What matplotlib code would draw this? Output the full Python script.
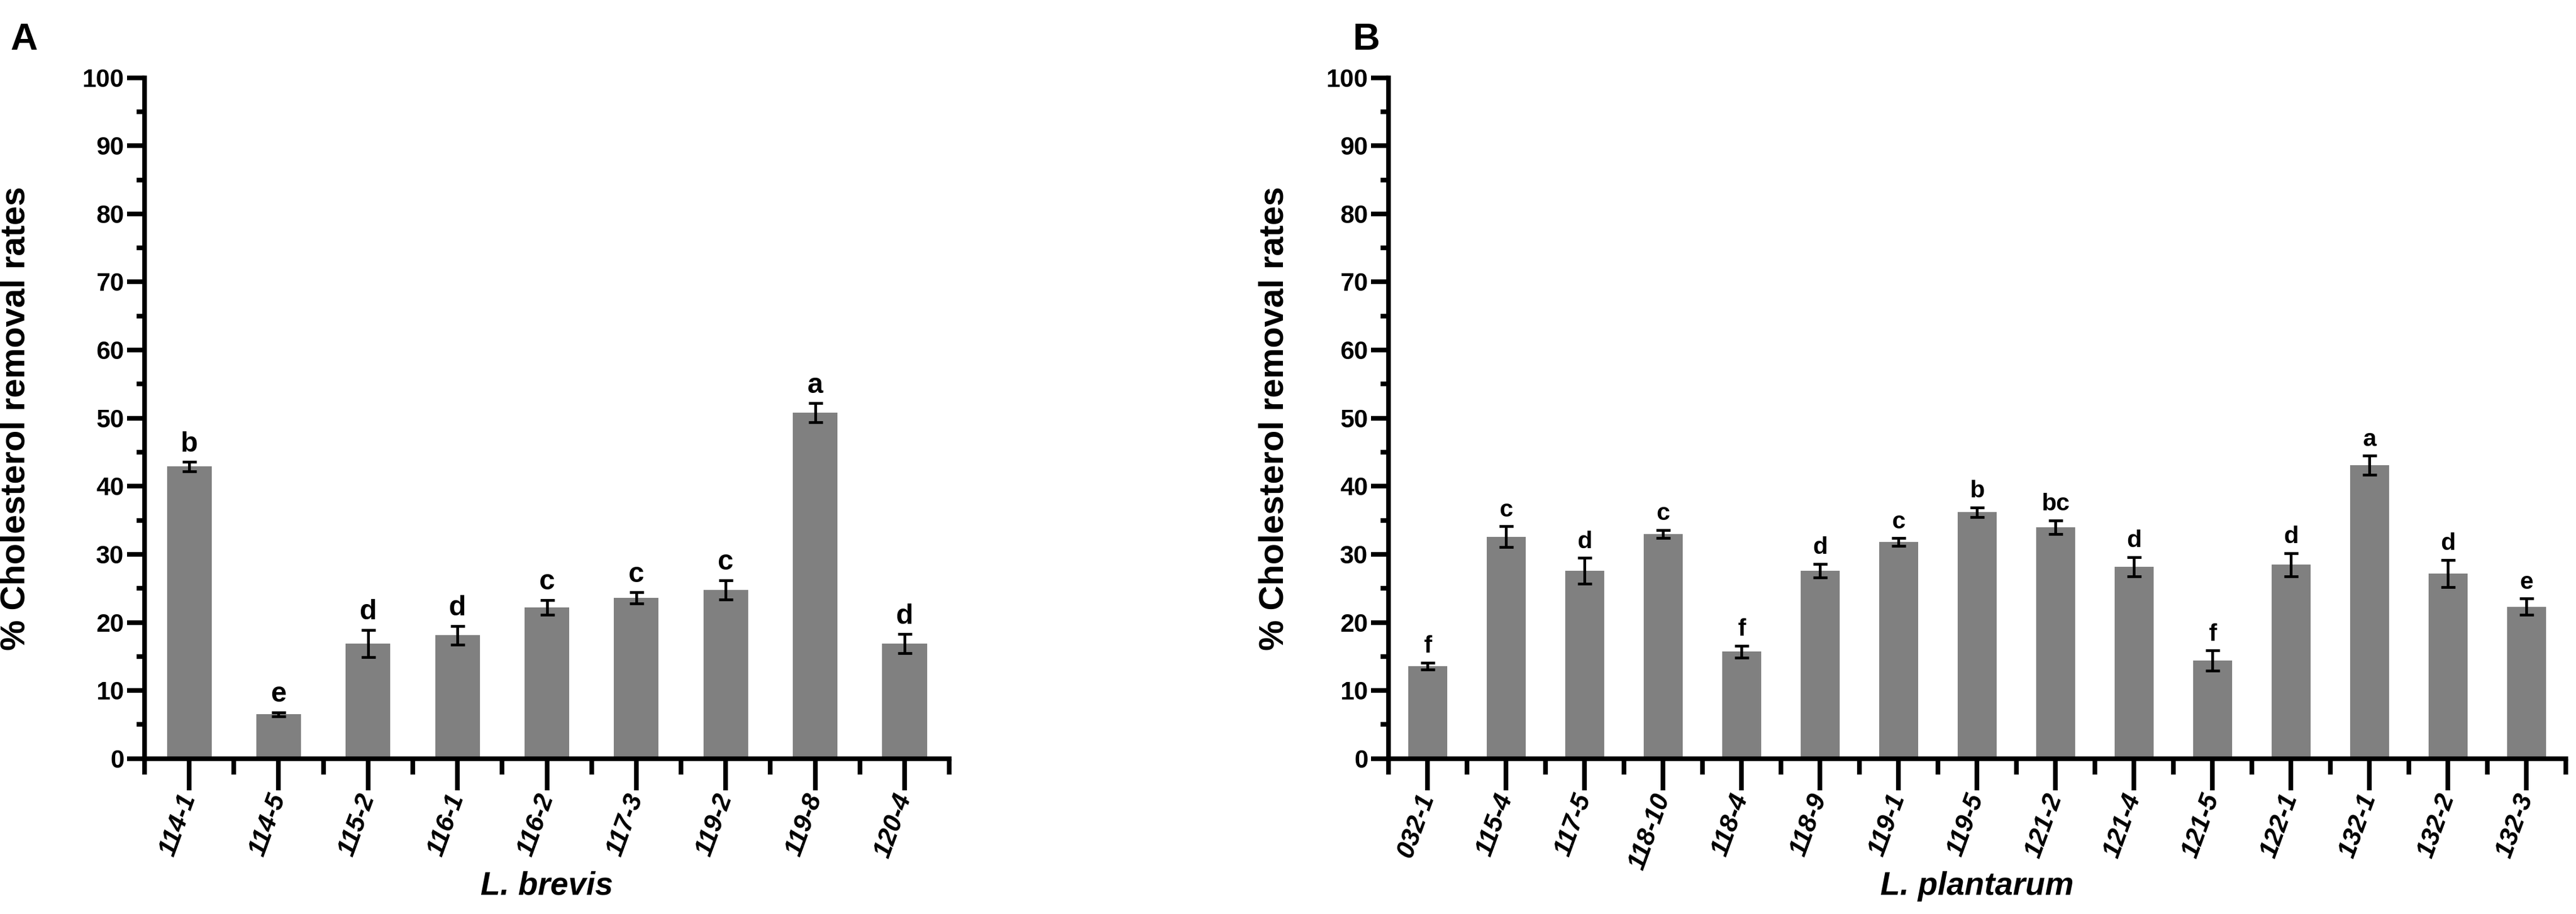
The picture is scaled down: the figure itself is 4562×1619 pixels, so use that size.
import matplotlib
matplotlib.use("Agg")
import matplotlib.pyplot as plt
from matplotlib.ticker import MultipleLocator, FixedLocator
import numpy as np

plt.rcParams['font.family'] = ['Liberation Sans Narrow', 'Liberation Sans', 'DejaVu Sans']
plt.rcParams['font.weight'] = 'bold'

# Panel A - L. brevis
brevis_strains = ['114-1', '114-5', '115-2', '116-1', '116-2', '117-3', '119-2', '119-8', '120-4']
brevis_means = [42.9, 6.5, 16.9, 18.1, 22.2, 23.6, 24.8, 50.8, 16.9]
brevis_err = [0.7, 0.3, 2.0, 1.4, 1.1, 0.8, 1.4, 1.4, 1.4]
brevis_groups = ['b', 'e', 'd', 'd', 'c', 'c', 'c', 'a', 'd']

# Panel B - L. plantarum
plant_strains = ['032-1', '115-4', '117-5', '118-10', '118-4', '118-9', '119-1', '119-5',
                 '121-2', '121-4', '121-5', '122-1', '132-1', '132-2', '132-3']
plant_means = [13.6, 32.6, 27.6, 33.0, 15.7, 27.6, 31.8, 36.2, 34.0, 28.2, 14.4, 28.5, 43.1, 27.2, 22.3]
plant_err = [0.5, 1.5, 1.9, 0.6, 0.9, 1.0, 0.6, 0.7, 1.0, 1.4, 1.5, 1.7, 1.4, 2.0, 1.2]
plant_groups = ['f', 'c', 'd', 'c', 'f', 'd', 'c', 'b', 'bc', 'd', 'f', 'd', 'a', 'd', 'e']

W, H = 4562, 1619
fig = plt.figure(figsize=(W / 100, H / 100), dpi=100)
fig.patch.set_facecolor('white')

spine_lw = 6.0
bar_color = '#808080'


def draw_panel(rect, strains, means, errs, groups, xlabel, letter_size, letter_family, ylab_x):
    ax = fig.add_axes(rect)
    x = np.arange(len(strains))
    ax.bar(x, means, width=0.5, color=bar_color, edgecolor='none', zorder=2)
    ax.errorbar(x, means, yerr=errs, fmt='none', ecolor='black', elinewidth=3.5,
                capsize=9, capthick=3.5, zorder=3)
    for xi, m, e, g in zip(x, means, errs, groups):
        ax.annotate(g, (xi, m + e), xytext=(0, 6), textcoords='offset points',
                    ha='center', va='bottom', fontsize=letter_size, fontweight='bold',
                    family=letter_family)

    ax.set_xlim(-0.5, len(strains) - 0.5)
    ax.set_ylim(0, 100)
    for s in ['top', 'right']:
        ax.spines[s].set_visible(False)
    for s in ['left', 'bottom']:
        ax.spines[s].set_linewidth(spine_lw)
        ax.spines[s].set_capstyle('projecting')

    ax.yaxis.set_major_locator(MultipleLocator(10))
    ax.yaxis.set_minor_locator(MultipleLocator(5))
    ax.tick_params(axis='y', which='major', length=22, width=spine_lw, labelsize=32, pad=4)
    ax.tick_params(axis='y', which='minor', length=10, width=spine_lw)

    ax.xaxis.set_major_locator(FixedLocator(x))
    ax.xaxis.set_minor_locator(FixedLocator(np.arange(len(strains) + 1) - 0.5))
    ax.tick_params(axis='x', which='major', length=40, width=spine_lw, labelsize=33, pad=6)
    ax.tick_params(axis='x', which='minor', length=20, width=spine_lw)
    ax.set_xticklabels(strains, rotation=70, ha='right', va='center',
                       rotation_mode='anchor', style='italic', fontweight='bold')
    for lab in ax.get_yticklabels():
        lab.set_fontweight('bold')

    ax.set_xlabel(xlabel, fontsize=41, fontstyle='italic', fontweight='bold')
    ax.xaxis.set_label_coords(0.5, -0.165)
    ax.set_ylabel('% Cholesterol removal rates', fontsize=44, fontweight='bold',
                  family=['Liberation Sans', 'DejaVu Sans'])
    ax.yaxis.set_label_coords(ylab_x, 0.5)
    return ax


axA = draw_panel([0.0561, 0.170, 0.3124, 0.745], brevis_strains, brevis_means, brevis_err,
                 brevis_groups, 'L. brevis', 36, ['Liberation Sans', 'DejaVu Sans'], -0.140)
axB = draw_panel([0.539, 0.170, 0.457, 0.745], plant_strains, plant_means, plant_err,
                 plant_groups, 'L. plantarum', 31, ['Liberation Sans Narrow', 'Liberation Sans'], -0.083)

fig.text(0.004, 0.975, 'A', fontsize=48, fontweight='bold', va='top', ha='left')
fig.text(0.525, 0.975, 'B', fontsize=48, fontweight='bold', va='top', ha='left')

fig.savefig('out.png', dpi=100, facecolor='white')
